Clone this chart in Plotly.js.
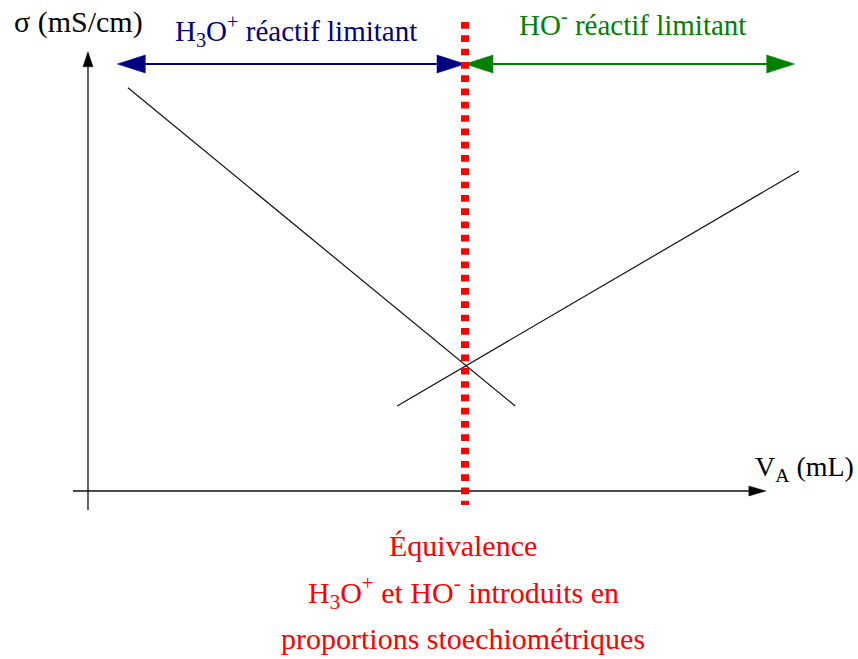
<!DOCTYPE html>
<html>
<head>
<meta charset="utf-8">
<script src="https://cdn.plot.ly/plotly-3.0.1.min.js"></script>
<style>html,body{margin:0;padding:0;background:#fff;}#chart{width:858px;height:659px;}</style>
</head>
<body>
<div id="chart"></div>
<script>
// ---- data (V_A in mL, sigma in mS/cm, schematic) ----
const V_acid = [1.06, 11.33];        // H3O+ limiting branch
const sigma_acid = [6.40, 1.35];
const V_base = [8.20, 18.86];        // HO- limiting branch
const sigma_base = [1.35, 5.08];
const V_eq = 10;                      // equivalence volume

// axis frame / decorations (data units)
const X_RANGE = [-2.334, 20.424];
const Y_RANGE = [-2.667, 7.794];
const xAxisV = [-0.398, 17.60];
const xAxisS = [0, 0];
const yAxisV = [0, 0];
const yAxisS = [-0.302, 6.74];
const eqS = [7.444, -0.222];
const limArrowS = 6.778;
const acidArrowV = [0.777, V_eq];
const baseArrowV = [V_eq, 18.745];

// labels
const lblSigma = 'σ (mS/cm)';
const lblV = 'V<sub>A</sub> (mL)';
const lblAcid = 'H<sub>3</sub>O<sup>+</sup> réactif limitant';
const lblBase = 'HO<sup>-</sup> réactif limitant';
const lblEq = ['Équivalence', 'H<sub>3</sub>O<sup>+</sup> et HO<sup>-</sup> introduits en', 'proportions stoechiométriques'];

const W = 858, H = 659;
const NAVY = '#000080', GREEN = '#008000', RED = '#ff0000';
const FONT = 'Liberation Serif, Times New Roman, serif';

function line(x, y, color, width, dash) {
  return {x: x, y: y, type: 'scatter', mode: 'lines', hoverinfo: 'skip', showlegend: false,
          line: {color: color, width: width, dash: dash || 'solid'}};
}

const traces = [
  line(xAxisV, xAxisS, '#111', 1.3),
  line(yAxisV, yAxisS, '#111', 1.3),
  line([acidArrowV[0] + 0.7, acidArrowV[1] - 0.7], [limArrowS, limArrowS], NAVY, 2),
  line([baseArrowV[0] + 0.7, baseArrowV[1] - 0.7], [limArrowS, limArrowS], GREEN, 2),
  line(V_acid, sigma_acid, '#111', 1.2),
  line(V_base, sigma_base, '#111', 1.2),
  line([V_eq, V_eq], eqS, RED, 8, '6.7px,6.6px')
];

function head(xa, ya, path, color) {
  return {type: 'path', xref: 'x', yref: 'y', xsizemode: 'pixel', ysizemode: 'pixel',
          xanchor: xa, yanchor: ya, path: path, fillcolor: color, line: {color: color, width: 0.5}, layer: 'below'};
}
const R = 'M0,0 L-28,9 L-28,-9 Z', L = 'M0,0 L28,9 L28,-9 Z';
const shapes = [
  head(acidArrowV[0], limArrowS, L, NAVY),
  head(acidArrowV[1], limArrowS, R, NAVY),
  head(baseArrowV[0], limArrowS, L, GREEN),
  head(baseArrowV[1], limArrowS, R, GREEN),
  head(17.98, 0, 'M0,0 L-17,5 L-17,-5 Z', '#000'),
  head(0, 6.973, 'M0,0 L-5,-15 L5,-15 Z', '#000')
];

function ann(text, px, py, size, color, xanchor) {
  return {text: text, xref: 'paper', yref: 'paper', x: px / W, y: 1 - py / H,
          xanchor: xanchor || 'center', yanchor: 'middle', showarrow: false,
          font: {family: FONT, size: size, color: color}};
}
const annotations = [
  ann(lblSigma, 78, 22, 30, '#000'),
  ann(lblAcid, 296, 31, 29, NAVY),
  ann(lblBase, 632, 23, 29, GREEN),
  ann(lblV, 753, 468, 28, '#000', 'left'),
  ann(lblEq[0], 463, 545, 30, RED),
  ann(lblEq[1], 463, 592, 30, RED),
  ann(lblEq[2], 463, 638, 30, RED)
];

const layout = {
  width: W, height: H, autosize: false,
  margin: {l: 0, r: 0, t: 0, b: 0, pad: 0},
  paper_bgcolor: '#fff', plot_bgcolor: '#fff',
  xaxis: {range: X_RANGE, visible: false, fixedrange: true},
  yaxis: {range: Y_RANGE, visible: false, fixedrange: true},
  shapes: shapes, annotations: annotations, showlegend: false
};
Plotly.newPlot('chart', traces, layout, {staticPlot: true, displayModeBar: false});
</script>
</body>
</html>
